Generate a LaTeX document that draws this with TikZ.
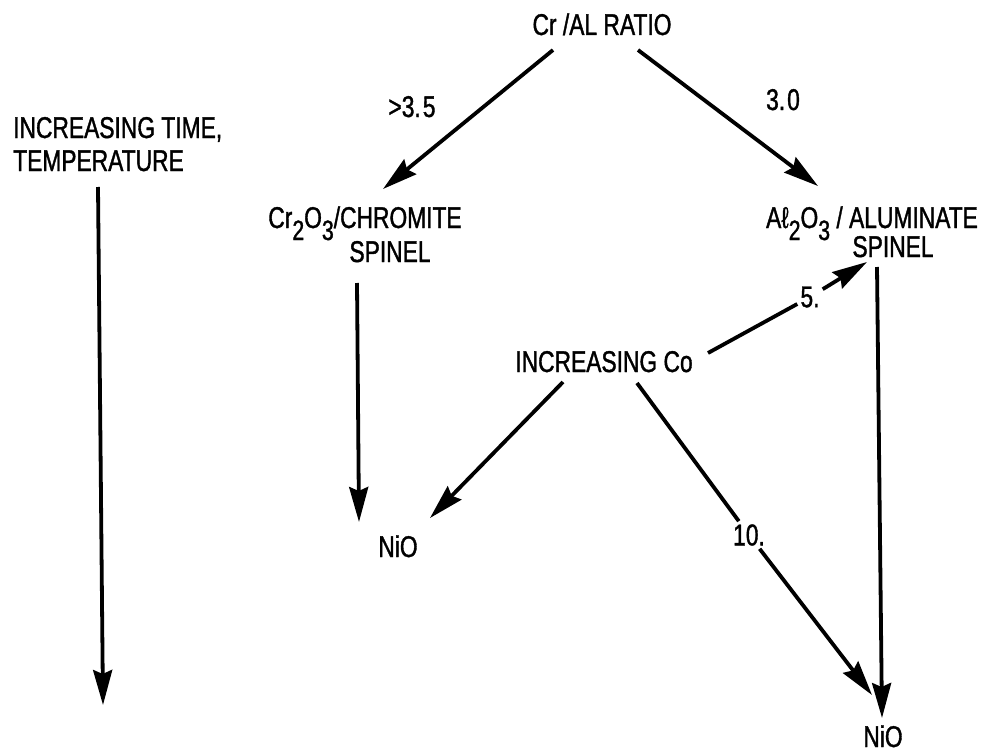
\documentclass[tikz,border=0pt]{standalone}
\usepackage{fontspec}
\setmainfont{Liberation Sans}[FakeStretch=0.76,FakeBold=1.2]
\usetikzlibrary{arrows.meta}
\newcommand\lowdig[1]{\raisebox{-12pt}{\fontsize{28}{28}\selectfont #1}}
\begin{document}
\begin{tikzpicture}[x=1pt,y=-1pt,
  txt/.style={inner sep=0pt, font=\fontsize{30}{33}\selectfont},
  lab/.style={txt, inner sep=3pt},
  ln/.style={line width=3.8pt},
  arr/.style={ln, -{Stealth[length=35pt,width=19pt,inset=4pt]}}]
\useasboundingbox (0,0) rectangle (995,752);
\fill[white] (0,0) rectangle (995,752);
% texts
\node[txt, anchor=base] (ratio) at (602,35) {Cr /AL RATIO};
\node[txt, anchor=base west] (time1) at (13,138) {INCREASING TIME,};
\node[txt, anchor=base west] (time2) at (13,171) {TEMPERATURE};
\node[txt, anchor=base] (gt) at (412,117) {>3.\kern2pt 5};
\node[txt, anchor=base] (three) at (783,110) {3.\kern2pt 0};
\node[txt, anchor=base] (chrom) at (365,228) {Cr\lowdig{2}O\lowdig{3}/CHROMITE};
\node[txt, anchor=base] (chrom2) at (390,262) {SPINEL};
\node[txt, anchor=base] (alum) at (872,228) {Aℓ\lowdig{2}O\lowdig{3} / ALUMINATE};
\node[txt, anchor=base] (alum2) at (893,257) {SPINEL};
\node[txt, anchor=base] (co) at (604,372) {INCREASING Co};
\node[txt, anchor=base] (nio1) at (398,557) {NiO};
\node[txt, anchor=base] (nio2) at (883,747) {NiO};
\node[lab] (five) at (810,297) {5.};
\node[lab] (ten) at (749,535) {10.};
% connector ends
\coordinate (ratioL) at (553,50);
\coordinate (ratioR) at (638,50);
\coordinate (chromT) at (383,189);
\coordinate (alumT) at (818,186);
\coordinate (chromB) at (357,283);
\coordinate (nioAT) at (359,522);
\coordinate (coL) at (563,382);
\coordinate (nioAR) at (430,518);
\coordinate (coR) at (637,383);
\coordinate (nioBL) at (872,695);
\coordinate (coE) at (708,353);
\coordinate (alumB) at (867,262);
\coordinate (alumV) at (877,267);
\coordinate (nioBT) at (882,718);
\coordinate (timeT) at (98,187);
\coordinate (timeB) at (103,705);
% connectors
\draw[arr] (ratioL) -- (chromT);
\draw[arr] (ratioR) -- (alumT);
\draw[arr] (chromB) -- (nioAT);
\draw[arr] (coL) -- (nioAR);
\draw[ln] (coR) -- (ten);
\draw[arr] (ten) -- (nioBL);
\draw[ln] (coE) -- (five);
\draw[arr] (five) -- (alumB);
\draw[arr] (alumV) -- (nioBT);
\draw[arr] (timeT) -- (timeB);
\end{tikzpicture}
\end{document}
